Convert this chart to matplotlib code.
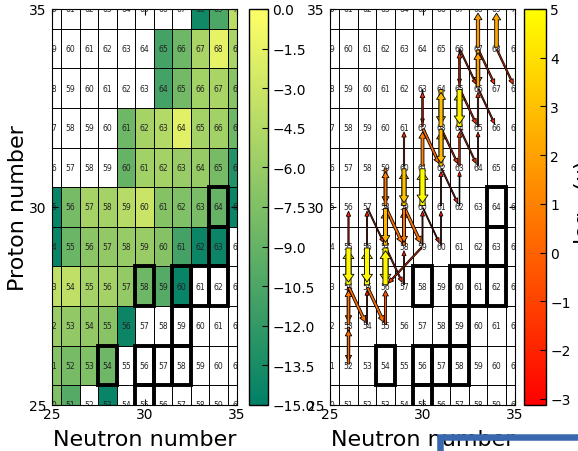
import numpy as np
import matplotlib
matplotlib.use("Agg")
import matplotlib.pyplot as plt
from matplotlib.colors import Normalize
from matplotlib.patches import Rectangle, FancyArrowPatch
from matplotlib.cm import ScalarMappable
from matplotlib.ticker import FuncFormatter
from matplotlib.transforms import IdentityTransform

plt.rcParams.update({
    "font.family": ["DejaVu Sans"],
    "xtick.direction": "in",
    "ytick.direction": "in",
    "xtick.top": True,
    "ytick.right": True,
    "xtick.major.size": 4,
    "ytick.major.size": 4,
    "xtick.labelsize": 10,
    "ytick.labelsize": 10,
})

# ---- nuclide chart --------------------------------------------------------
neutrons = np.arange(25, 36)
protons = np.arange(35, 24, -1)          # rows of the table below, top to bottom

nan = np.nan
# log10 quantity for each nuclide (rows: Z = 35 ... 25, columns: N = 25 ... 35)
log_values = np.array([
    [nan, nan, nan, nan, nan, nan, nan, nan, -14.0, -10.5, -4.0],
    [nan, nan, nan, nan, nan, nan, -11.0, -8.5, -5.0, -1.5, -5.0],
    [nan, nan, nan, nan, nan, nan, -11.0, -8.2, -5.5, -5.0, -7.0],
    [nan, nan, nan, nan, -8.5, -5.2, -4.5, -1.8, -5.3, -5.5, -8.5],
    [nan, nan, nan, nan, -9.0, -5.5, -5.3, -6.0, -6.2, -8.0, -13.0],
    [-14.5, -8.0, -5.2, -5.3, -4.3, -3.2, -7.2, -7.5, -7.8, -9.0, -14.3],
    [-14.5, -8.7, -6.8, -6.4, -6.2, -6.0, -7.2, -11.0, -14.3, -14.3, nan],
    [-3.8, -3.8, -5.3, -5.3, -6.3, -8.5, -10.0, -14.5, nan, nan, nan],
    [-6.0, -6.4, -6.4, -7.0, -14.3, nan, nan, nan, nan, nan, nan],
    [-7.2, -8.0, -7.5, -8.5, nan, nan, nan, nan, nan, nan, nan],
    [-7.5, -10.0, nan, -14.5, nan, nan, nan, nan, nan, nan, nan],
])

# stable nuclides (outlined in bold)
stable_n = [34, 34, 30, 32, 33, 34, 32, 28, 30, 31, 32, 30]
stable_z = [30, 29, 28, 28, 28, 28, 27, 26, 26, 26, 26, 25]

# reaction flows: start (N, Z) -> end (N, Z) and log10 of the flow
flow_n0 = [26, 26, 26, 26, 26, 26, 26, 27, 27, 27, 27, 28, 28, 28, 28, 28, 28, 28,
           29, 29, 29, 29, 29, 29, 30, 30, 30, 30, 30, 30, 31, 31, 31, 31, 31, 31,
           32, 32, 32, 32, 32, 32, 33, 33, 33, 33, 33, 34,
           26, 27, 27, 28, 28, 29, 30, 30, 31, 31, 32, 32, 32, 33, 33, 34, 30]
flow_z0 = [26, 27, 27, 28, 28, 29, 29, 27, 28, 29, 29, 27, 28, 29, 29, 30, 30, 31,
           28, 29, 30, 30, 31, 31, 29, 30, 31, 31, 32, 33, 29, 30, 31, 32, 32, 33,
           30, 31, 32, 33, 33, 34, 31, 32, 33, 34, 34, 34,
           28, 28, 30, 29, 30, 30, 30, 32, 31, 32, 32, 33, 34, 33, 34, 34, 29]
flow_n1 = [26, 26, 26, 26, 26, 26, 26, 27, 27, 27, 27, 28, 28, 28, 28, 28, 28, 28,
           29, 29, 29, 29, 29, 29, 30, 30, 30, 30, 30, 30, 31, 31, 31, 31, 31, 31,
           32, 32, 32, 32, 32, 32, 33, 33, 33, 33, 33, 34,
           27, 28, 28, 29, 29, 30, 31, 31, 32, 32, 33, 33, 33, 34, 34, 35, 28]
flow_z1 = [27, 26, 28, 27, 29, 28, 30, 28, 29, 28, 30, 28, 29, 28, 30, 29, 31, 30,
           29, 30, 29, 31, 30, 32, 30, 31, 30, 32, 33, 32, 30, 31, 32, 31, 33, 32,
           31, 32, 33, 32, 34, 33, 32, 33, 34, 33, 35, 35,
           27, 27, 29, 28, 29, 29, 29, 31, 30, 31, 31, 32, 33, 32, 33, 33, 28]
flow_log = [0.3, 0.0, 0.6, 0.3, 4.8, 4.8, -1.8, -2.3, 4.8, 4.8, -2.0, -0.5, 4.7, 4.7,
            2.6, 2.6, 0.8, 0.8,
            -2.2, 0.8, 0.8, 3.0, 3.0, -1.8, -2.2, 4.9, 4.9, 1.0, -1.6, -2.5,
            -2.4, -2.0, 2.8, 2.8, 2.9, 2.9,
            -2.6, -1.4, 4.5, 4.5, -1.5, -2.2, -2.4, -1.8, 2.0, 2.0, 1.8, 2.2,
            0.4, 0.4, -2.0, -1.8, 0.5, 0.6, -2.2, 0.2, -2.0, -1.6, -1.8, -1.5,
            -1.8, -1.8, -1.5, -1.5, -1.5]

cell_cmap = plt.get_cmap("summer")
cell_norm = Normalize(vmin=-15.0, vmax=0.0)
flow_cmap = plt.get_cmap("autumn")
flow_norm = Normalize(vmin=-3.13, vmax=5.0)

W, H = 578, 452
fig = plt.figure(figsize=(W / 100, H / 100), dpi=100)
fig.patch.set_facecolor("white")


def px_rect(x0, x1, y0, y1):
    return [x0 / W, 1 - y1 / H, (x1 - x0) / W, (y1 - y0) / H]


ax1 = fig.add_axes(px_rect(52, 237, 10, 406))
cax1 = fig.add_axes(px_rect(249, 268, 10, 406))
ax2 = fig.add_axes(px_rect(330, 515, 10, 406))
cax2 = fig.add_axes(px_rect(524, 546, 10, 406))

n_edges = np.arange(neutrons[0] - 0.5, neutrons[-1] + 1.0)
z_edges = np.arange(protons[-1] - 0.5, protons[0] + 1.0)


def draw_chart(ax, colored):
    if colored:
        grid = np.ma.masked_invalid(log_values[::-1])
        mesh = ax.pcolormesh(n_edges, z_edges, grid, cmap=cell_cmap,
                             norm=cell_norm, zorder=0.5)
    else:
        mesh = None
    ax.vlines(n_edges, z_edges[0], z_edges[-1], colors="k", lw=0.7, zorder=1)
    ax.hlines(z_edges, n_edges[0], n_edges[-1], colors="k", lw=0.7, zorder=1)
    for z in protons:
        for n in neutrons:
            ax.text(n, z, str(n + z), ha="center", va="center", fontsize=5.5,
                    color="#222222", zorder=3, clip_on=True)
    for n, z in zip(stable_n, stable_z):
        ax.add_patch(Rectangle((n - 0.5, z - 0.5), 1, 1, fill=False,
                               ec="k", lw=2.8, zorder=2.5))
    ax.set_xlim(25, 35)
    ax.set_ylim(25, 35)
    ax.set_xticks([25, 30, 35])
    ax.set_yticks([25, 30, 35])
    ax.tick_params(axis="x", pad=1.5)
    ax.tick_params(axis="y", pad=4)
    return mesh


mesh = draw_chart(ax1, True)
draw_chart(ax2, False)

# flows, weakest first so the strong ones sit on top
order = np.argsort(flow_log)
for i in order:
    v = flow_log[i]
    tw = 0.35 + 0.42 * (v - flow_norm.vmin)
    hw = 1.7 * tw + 1.6
    hl = 0.7 * tw + 3.0
    arrow = FancyArrowPatch(
        (flow_n0[i], flow_z0[i]), (flow_n1[i], flow_z1[i]),
        arrowstyle=f"simple,head_length={hl:.2f},head_width={hw:.2f},tail_width={tw:.2f}",
        mutation_scale=1, shrinkA=1, shrinkB=3,
        fc=flow_cmap(flow_norm(v)), ec="k", lw=0.6, zorder=4 + 0.01 * v)
    ax2.add_patch(arrow)

cb1 = fig.colorbar(mesh, cax=cax1, ticks=np.arange(-15.0, 0.01, 1.5),
                   format=FuncFormatter(lambda v, _: f"{v:.1f}".replace("-", "\u2212")))
cb1.ax.tick_params(direction="in", length=4, labelsize=10, pad=3)
cb1.outline.set_linewidth(1.0)

cb2 = fig.colorbar(ScalarMappable(norm=flow_norm, cmap=flow_cmap), cax=cax2,
                   ticks=np.arange(-3, 6, 1))
cb2.ax.tick_params(direction="in", length=4, labelsize=10, pad=3)
cb2.outline.set_linewidth(1.0)

fig.text(0.014, 1 - 208 / H, "Proton number", rotation=90, ha="left",
         va="center", fontsize=16)
fig.text(144.5 / W, 1 - 440 / H, "Neutron number", ha="center", va="center",
         fontsize=16)
fig.text(422.5 / W, 1 - 440 / H, "Neutron number", ha="center", va="center",
         fontsize=16)
fig.text(572 / W, 1 - 203 / H, "log$_{10}$($\\nu$)", rotation=90, ha="left",
         va="center", fontsize=16)

# frame corner in the lower right
fig.add_artist(Rectangle((439.5, -60), 300, 60 + (H - 438), fill=False,
                         ec="#3a68ae", lw=6.5 * 72 / 100,
                         transform=IdentityTransform(), zorder=10))

fig.savefig("out.png", dpi=100)
